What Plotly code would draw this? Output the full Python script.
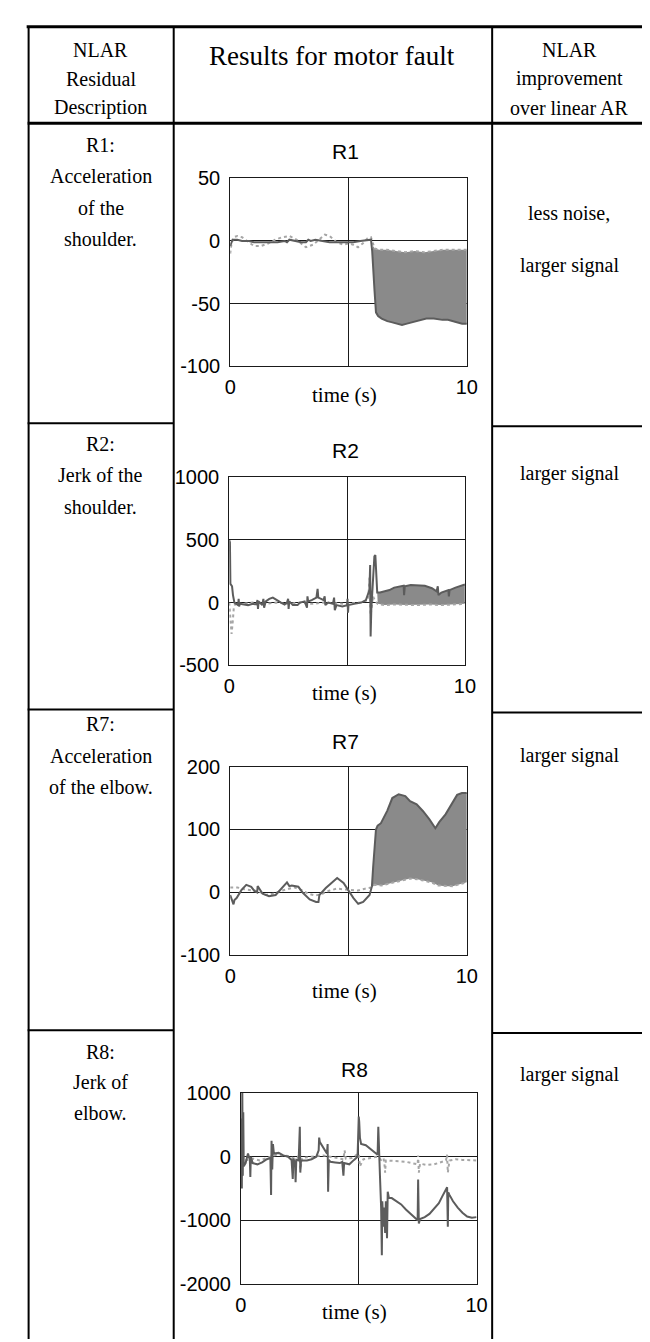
import plotly.graph_objects as go

W, H = 650, 1342

# ---------------- data ----------------
R1_SOLID_T = [0, 0.05, 0.1, 0.2, 0.3, 0.5, 0.8, 1.0, 1.3, 1.6, 2.0, 2.3, 2.4, 2.5, 2.7, 3.0, 3.2, 3.3, 3.4, 3.6,
              3.9, 4.2, 4.45, 4.8, 5.0, 5.2, 5.5, 5.8, 5.95, 6.0, 6.03, 6.07, 6.1, 6.16, 6.25, 6.4, 6.64, 6.85,
              7.05, 7.26, 7.47, 7.7, 7.88, 8.1, 8.29, 8.6, 8.97, 9.2, 9.38, 9.6, 9.8, 10.0]
R1_SOLID_V = [-4, -1, 1, 1, 1, 0, 0, -1, -1, -1, -1, 0, -1, 1, 0, -1, -1, 1, 0, 1,
              0, -1, -1, -1, -1, -1, 0, 1, 1, -8, -20, -30, -40, -57, -60, -62, -64, -65,
              -66, -67, -66, -65, -64, -63, -62, -62, -63, -63, -64, -65, -66, -66]
R1_DOT_T = [0, 0.05, 0.15, 0.3, 0.5, 0.7, 1.0, 1.3, 1.6, 1.9, 2.2, 2.5, 2.8, 3.0, 3.2, 3.5, 3.8, 4.0, 4.2, 4.5,
            4.8, 5.0, 5.2, 5.4, 5.6, 5.8, 5.95, 6.05, 6.1, 6.3, 6.6, 7.0, 7.4, 7.8, 8.2, 8.6, 9.0, 9.4, 9.8, 10.0]
R1_DOT_V = [-10, -3, 3, 4, 3, 0, -4, -4, -2, 1, 3, 4, 1, -2, -5, -3, 2, 5, 4, -1,
            -3, -2, -3, -5, -2, 2, 3, -4, -6, -7, -7, -8, -9, -8, -9, -8, -7, -7, -7, -7]

R2_SOLID_T = [0.0, 0.03, 0.05, 0.12, 0.16, 0.22, 0.3, 0.38, 0.4, 0.42, 0.45, 0.6, 0.8, 1.0, 1.15, 1.2, 1.22, 1.25,
              1.4, 1.45, 1.48, 1.55, 1.7, 1.85, 2.0, 2.2, 2.35, 2.45, 2.5, 2.52, 2.55, 2.7, 2.9, 3.0, 3.2, 3.3,
              3.32, 3.35, 3.5, 3.7, 3.75, 3.78, 3.9, 4.0, 4.05, 4.08, 4.2, 4.4, 4.45, 4.48, 4.55, 4.8, 5.0, 5.02,
              5.04, 5.06, 5.3, 5.6, 5.8, 5.95, 5.98, 6.0, 6.03, 6.08, 6.12, 6.16, 6.2, 6.25, 6.28, 6.4, 6.6, 6.8,
              7.0, 7.2, 7.4, 7.42, 7.45, 7.7, 8.0, 8.3, 8.6, 8.8, 8.85, 8.88, 9.0, 9.2, 9.3, 9.32, 9.35, 9.6, 9.8,
              10.0]
R2_SOLID_V = [500, 480, 150, 130, 60, 0, -10, -20, 30, -30, -10, -15, -20, -10, -15, 20, -50, 10,
              -20, 30, -40, 10, 30, 40, 20, 0, -15, 0, 30, -50, 10, -20, -20, 0, 10, -40,
              50, 10, 20, 40, 110, 40, 30, 20, 50, -20, 0, -10, 40, -60, -20, -30, -20, 30,
              -80, -20, -10, 0, 20, 100, 300, -270, -50, 150, 250, 370, 380, 200, 80, 80, 90, 100,
              120, 125, 135, 60, 130, 140, 140, 135, 115, 90, 130, 60, 80, 90, 100, 50, 100, 120, 135,
              145]
R2_DOT_T = [0, 0.05, 0.1, 0.15, 0.2, 0.3, 0.5, 1.0, 1.5, 2.0, 2.5, 3.0, 3.5, 4.0, 4.5, 5.0, 5.5, 5.9, 5.95,
            6.0, 6.1, 6.2, 6.3, 6.6, 7.0, 7.5, 8.0, 8.5, 9.0, 9.5, 10.0]
R2_DOT_V = [0, -100, -250, -150, -30, 0, -10, 0, -10, 0, -10, 0, -10, 0, -5, -10, 0, 20, 200,
            -100, 50, 10, -10, -20, -15, -20, -20, -15, -20, -15, -10]

R7_SOLID_T = [0.0, 0.14, 0.18, 0.27, 0.48, 0.68, 0.89, 1.03, 1.14, 1.16, 1.37, 1.64, 1.92, 2.19, 2.4, 2.5,
              2.6, 2.88, 3.08, 3.36, 3.63, 3.73, 3.77, 4.04, 4.32, 4.52, 4.79, 5.0, 5.21, 5.41, 5.62, 5.89,
              5.99, 6.04, 6.1, 6.16, 6.23, 6.37, 6.64, 6.85, 7.12, 7.4, 7.6, 7.88, 8.15, 8.42, 8.67, 8.84,
              9.1, 9.38, 9.59, 9.79, 10.0]
R7_SOLID_V = [-4, -19, -12, -9, 4, 12, 9, 2, 0, 10, -2, -6, -4, 7, 16, 10,
              11, 9, -1, -11, -15, -15, -4, 7, 17, 23, 15, 2, -9, -18, -15, -4,
              10, 40, 64, 100, 106, 110, 130, 150, 156, 153, 145, 140, 129, 116, 102, 112,
              124, 142, 155, 158, 158]
R7_DOT_T = [0, 0.3, 0.6, 0.9, 1.2, 1.5, 1.8, 2.1, 2.4, 2.7, 3.0, 3.3, 3.6, 3.9, 4.2, 4.5, 4.8, 5.1, 5.4,
            5.7, 5.99, 6.1, 6.4, 6.7, 7.0, 7.3, 7.6, 7.9, 8.2, 8.5, 8.8, 9.1, 9.4, 9.7, 10.0]
R7_DOT_V = [8, 8, 5, 3, 2, -4, -2, 2, 5, 8, 4, -2, -5, -2, 3, 6, 5, 4, 3,
            6, 8, 12, 11, 14, 17, 19, 22, 21, 19, 16, 11, 10, 10, 13, 16]

R8_SOLID_T = [0.0, 0.02, 0.04, 0.06, 0.08, 0.1, 0.12, 0.2, 0.3, 0.38, 0.4, 0.42, 0.5, 0.7, 0.9, 1.1, 1.25,
              1.28, 1.3, 1.33, 1.36, 1.4, 1.6, 1.8, 2.0, 2.15, 2.2, 2.23, 2.3, 2.32, 2.35, 2.45, 2.5, 2.52,
              2.55, 2.8, 3.0, 3.2, 3.3, 3.32, 3.35, 3.5, 3.65, 3.68, 3.7, 3.73, 3.8, 4.0, 4.2, 4.3, 4.35,
              4.38, 4.6, 4.8, 4.95, 5.0, 5.02, 5.05, 5.1, 5.3, 5.5, 5.7, 5.8, 5.83, 5.86, 5.9, 5.95, 5.98,
              6.0, 6.05, 6.08, 6.12, 6.15, 6.2, 6.23, 6.28, 6.4, 6.6, 6.8, 7.0, 7.2, 7.4, 7.5, 7.52, 7.55,
              7.6, 7.8, 8.0, 8.2, 8.4, 8.55, 8.75, 8.78, 8.8, 8.85, 9.0, 9.2, 9.4, 9.6, 9.8, 10.0]
R8_SOLID_V = [0, 600, -500, 1000, -300, 700, -150, -100, 50, -50, -320, 0, -100, -120, -90, -40, -20,
              -600, 250, -200, 200, 50, 60, 20, 0, -50, -350, -30, -100, -400, -50, -60, 470, -250,
              -60, -60, -40, 0, 100, 300, 230, 150, 50, 200, -550, -50, -80, -90, -100, -80, -300,
              -100, -120, -50, 0, 630, 550, 300, 200, 180, 120, 70, 30, 470, -50, -300, -800, -1550,
              -700, -1100, -800, -1200, -700, -1280, -550, -650, -650, -700, -750, -830, -900, -960, -1000, -360, -1050,
              -980, -950, -900, -820, -730, -620, -480, -1100, -560, -600, -700, -800, -880, -940, -960, -950]
R8_DOT_T = [0, 0.1, 0.3, 0.5, 0.8, 1.1, 1.3, 1.5, 1.8, 2.0, 2.2, 2.4, 2.5, 2.52, 2.6, 2.9, 3.2, 3.5, 3.8,
            4.1, 4.35, 4.4, 4.45, 4.7, 5.0, 5.05, 5.2, 5.5, 5.8, 5.95, 6.05, 6.1, 6.12, 6.15, 6.4, 6.7, 7.0,
            7.3, 7.5, 7.52, 7.55, 7.6, 7.9, 8.2, 8.5, 8.7, 8.75, 8.78, 8.85, 9.1, 9.4, 9.7, 10.0]
R8_DOT_V = [0, -50, -50, -30, -60, -20, 0, 30, 20, 10, -20, -30, 100, -200, -20, 0, 10, 20, 0,
            -20, -40, 100, -30, -20, 50, -150, -40, -20, 0, -50, -20, -150, -250, -60, -60, -70, -80,
            -100, -120, 20, -250, -110, -130, -120, -90, -60, 30, -250, -60, -40, -50, -60, -60]

R1_YTICKS = [-100, -50, 0, 50]
R2_YTICKS = [-500, 0, 500, 1000]
R7_YTICKS = [-100, 0, 100, 200]
R8_YTICKS = [-2000, -1000, 0, 1000]
X_TICKS = [0, 5, 10]
X_TICK_TEXT = ["0", "", "10"]

FILL_FROM = {"R1": 5.99, "R2": 6.28, "R7": 5.99}

# ---------------- layout helpers ----------------
def fx(px):
    return px / W


def fy(py):
    return 1 - py / H


SERIF = "Liberation Serif, Times New Roman, serif"
SANS = "Liberation Sans, Arial, sans-serif"
INK = "#1a1a1a"
SOLID_C = "#5c5c5c"
DOT_C = "#a6a6a6"
FILL_C = "#8a8a8a"

panels = [
    dict(name="R1", st=R1_SOLID_T, sv=R1_SOLID_V, dt=R1_DOT_T, dv=R1_DOT_V, yt=R1_YTICKS,
         box=(222, 465, 162, 353), title=(340, 135), time=(339, 382), fill=True),
    dict(name="R2", st=R2_SOLID_T, sv=R2_SOLID_V, dt=R2_DOT_T, dv=R2_DOT_V, yt=R2_YTICKS,
         box=(221, 463, 466, 657), title=(340, 439), time=(339, 685), fill=True),
    dict(name="R7", st=R7_SOLID_T, sv=R7_SOLID_V, dt=R7_DOT_T, dv=R7_DOT_V, yt=R7_YTICKS,
         box=(222, 465, 760, 952), title=(340, 735), time=(339, 988), fill=True),
    dict(name="R8", st=R8_SOLID_T, sv=R8_SOLID_V, dt=R8_DOT_T, dv=R8_DOT_V, yt=R8_YTICKS,
         box=(233, 475, 1092, 1286), title=(350, 1068), time=(350, 1315), fill=False),
]

fig = go.Figure()
layout = dict(width=W, height=H, margin=dict(l=0, r=0, t=0, b=0), paper_bgcolor="white",
              plot_bgcolor="white", showlegend=False)
annotations = []

for i, p in enumerate(panels):
    k = "" if i == 0 else str(i + 1)
    xa, ya = "x" + k, "y" + k
    x0, x1, y0, y1 = p["box"]
    if p["fill"]:
        f = FILL_FROM[p["name"]]
        st = [t for t in p["st"] if t >= f]
        sv = [v for t, v in zip(p["st"], p["sv"]) if t >= f]
        dt = [t for t in p["dt"] if t >= f]
        dv = [v for t, v in zip(p["dt"], p["dv"]) if t >= f]
        fig.add_trace(go.Scatter(x=st + dt[::-1], y=sv + dv[::-1], fill="toself", fillcolor=FILL_C,
                                 mode="lines", line=dict(width=0), xaxis=xa, yaxis=ya, hoverinfo="skip"))
    fig.add_trace(go.Scatter(x=p["dt"], y=p["dv"], mode="lines",
                             line=dict(color=DOT_C, width=2, dash="dot"), xaxis=xa, yaxis=ya))
    fig.add_trace(go.Scatter(x=p["st"], y=p["sv"], mode="lines",
                             line=dict(color=SOLID_C, width=2), xaxis=xa, yaxis=ya))
    yt = p["yt"]
    layout["xaxis" + k] = dict(domain=[fx(x0), fx(x1)], range=[0, 10], anchor=ya,
                               tickvals=X_TICKS, ticktext=X_TICK_TEXT, ticks="outside", ticklen=3,
                               tickcolor="rgba(0,0,0,0)", showgrid=True, gridcolor=INK, gridwidth=1,
                               zeroline=False, showline=True, mirror=True, linecolor=INK, linewidth=1,
                               tickfont=dict(family=SANS, size=20, color="black"))
    layout["yaxis" + k] = dict(domain=[fy(y1), fy(y0)], range=[yt[0], yt[-1]], anchor=xa,
                               tickvals=yt, ticktext=[str(v) for v in yt], ticks="outside", ticklen=5,
                               tickcolor="rgba(0,0,0,0)", showgrid=True, gridcolor=INK, gridwidth=1,
                               zeroline=False, showline=True, mirror=True, linecolor=INK, linewidth=1,
                               tickfont=dict(family=SANS, size=20, color="black"))
    annotations.append(dict(text=p["name"], x=fx(p["title"][0]), y=fy(p["title"][1]), xref="paper",
                            yref="paper", showarrow=False, xanchor="center", yanchor="middle",
                            font=dict(family=SANS, size=21, color="black")))
    annotations.append(dict(text="time (s)", x=fx(p["time"][0]), y=fy(p["time"][1]), xref="paper",
                            yref="paper", showarrow=False, xanchor="center", yanchor="middle",
                            font=dict(family=SERIF, size=21, color="black")))

# ---------------- table text ----------------
LC, RC = 89, 570
cells = [
    ("NLAR", LC, 32, 20), ("Residual", LC, 61, 20), ("Description", LC, 90, 20),
    ("Results for motor fault", 327, 38, 27),
    ("NLAR", RC, 32, 20), ("improvement", RC, 61, 20), ("over linear AR", RC, 90, 20),
    ("R1:", LC, 128, 20), ("Acceleration", LC, 160, 20), ("of the", LC, 192, 20), ("shoulder.", LC, 224, 20),
    ("less noise,", RC, 197, 20), ("larger signal", RC, 251, 20),
    ("R2:", LC, 432, 20), ("Jerk of the", LC, 464, 20), ("shoulder.", LC, 496, 20),
    ("larger signal", RC, 462, 20),
    ("R7:", LC, 717, 20), ("Acceleration", LC, 749, 20), ("of the elbow.", LC, 781, 20),
    ("larger signal", RC, 749, 20),
    ("R8:", LC, 1050, 20), ("Jerk of", LC, 1081, 20), ("elbow.", LC, 1112, 20),
    ("larger signal", RC, 1073, 20),
]
for txt, x, y, s in cells:
    annotations.append(dict(text=txt, x=fx(x), y=fy(y), xref="paper", yref="paper", showarrow=False,
                            xanchor="center", yanchor="middle", font=dict(family=SERIF, size=s, color="black")))

# ---------------- table rules ----------------
shapes = []


def hline(y, xa, xb, w):
    shapes.append(dict(type="line", xref="paper", yref="paper", x0=fx(xa), x1=fx(xb), y0=fy(y), y1=fy(y),
                       line=dict(color="black", width=w)))


def vline(x, ya, yb, w):
    shapes.append(dict(type="line", xref="paper", yref="paper", x0=fx(x), x1=fx(x), y0=fy(ya), y1=fy(yb),
                       line=dict(color="black", width=w)))


hline(8, 13, 650, 3)
hline(106, 14, 650, 3)
vline(15, 7, 1342, 2)
vline(164, 7, 1342, 2)
vline(491, 7, 1342, 2)
for y in (411, 702, 1028):
    hline(y, 14, 164, 2)
for y in (414, 705, 1031):
    hline(y, 491, 650, 2)

layout["annotations"] = annotations
layout["shapes"] = shapes
fig.update_layout(**layout)
fig.write_html("out.html")
